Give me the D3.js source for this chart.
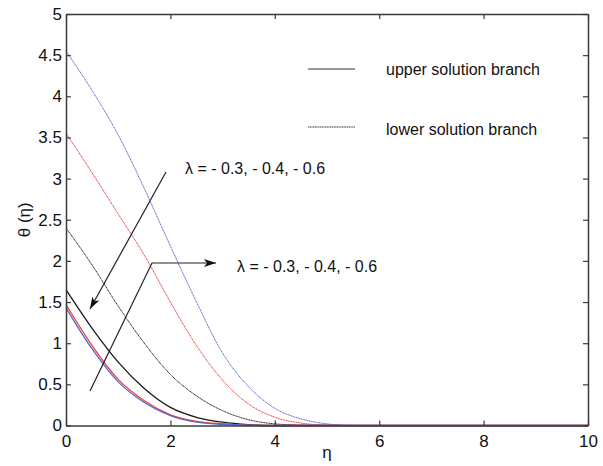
<!DOCTYPE html>
<html>
<head>
<meta charset="utf-8">
<script src="https://cdn.jsdelivr.net/npm/d3@7"></script>
<style>
  body { margin: 0; background: #fff; }
  text { font-family: "Liberation Sans", Arial, sans-serif; fill: #111; }
</style>
</head>
<body>
<div id="chart"></div>
<script>
// eta grid shared by every curve
var eta = [0, 0.5, 1, 1.5, 2, 2.5, 3, 3.5, 4, 4.5, 5, 5.5, 6, 7, 8, 9, 10];

// upper solution branch (solid)
var upperBlack = [1.65, 1.18, 0.77, 0.45, 0.22, 0.10, 0.04, 0.01, 0, 0, 0, 0, 0, 0, 0, 0, 0];
var upperRed   = [1.47, 0.97, 0.56, 0.30, 0.13, 0.05, 0.02, 0.005, 0, 0, 0, 0, 0, 0, 0, 0, 0];
var upperBlue  = [1.43, 0.93, 0.53, 0.28, 0.12, 0.04, 0.015, 0.004, 0, 0, 0, 0, 0, 0, 0, 0, 0];

// lower solution branch (dotted)
var lowerBlack = [2.40, 1.95, 1.45, 1.00, 0.62, 0.36, 0.18, 0.07, 0.02, 0.005, 0, 0, 0, 0, 0, 0, 0];
var lowerRed   = [3.55, 3.07, 2.57, 2.07, 1.50, 0.97, 0.55, 0.26, 0.10, 0.03, 0.005, 0, 0, 0, 0, 0, 0];
var lowerBlue  = [4.55, 4.07, 3.53, 2.88, 2.18, 1.50, 0.88, 0.47, 0.21, 0.08, 0.02, 0, 0, 0, 0, 0, 0];

var xTicks = [0, 2, 4, 6, 8, 10];
var yTicks = [0, 0.5, 1, 1.5, 2, 2.5, 3, 3.5, 4, 4.5, 5];
var lambdaLabel = "\u03bb = - 0.3, - 0.4, - 0.6";

var W = 603, H = 466;
var margin = {top: 14, right: 15, bottom: 40.5, left: 66};
var width = W - margin.left - margin.right,
    height = H - margin.top - margin.bottom;

var svg = d3.select("#chart").append("svg")
    .attr("width", W)
    .attr("height", H);

var g = svg.append("g")
    .attr("transform", "translate(" + margin.left + "," + margin.top + ")");

var x = d3.scaleLinear().domain([0, 10]).range([0, width]);
var y = d3.scaleLinear().domain([0, 5]).range([height, 0]);

var blue = "#5468c8", red = "#ef3b3b", black = "#1a1a1a";

/*****Curves******/
var line = d3.line()
    .x(function(d) { return x(d[0]); })
    .y(function(d) { return y(d[1]); })
    .curve(d3.curveMonotoneX);

function addCurve(vals, color, dotted) {
    var pts = eta.map(function(e, i) { return [e, vals[i]]; });
    g.append("path")
        .datum(pts)
        .attr("fill", "none")
        .attr("stroke", color)
        .attr("stroke-width", dotted ? 1 : 1.3)
        .attr("stroke-dasharray", dotted ? "1.2,0.5" : null)
        .attr("d", line);
}

addCurve(lowerBlue, blue, true);
addCurve(lowerRed, red, true);
addCurve(lowerBlack, black, true);
addCurve(upperBlack, black, false);
addCurve(upperRed, red, false);
addCurve(upperBlue, blue, false);

/*****Axes******/
function styleAxis(sel) {
    sel.select(".domain").attr("stroke", "#3a3a3a").attr("stroke-width", 1.5);
    sel.selectAll(".tick line").attr("stroke", "#3a3a3a").attr("stroke-width", 1.2);
    sel.selectAll(".tick text").style("font-size", "17px").attr("fill", "#111");
}

g.append("g")
    .attr("transform", "translate(0," + height + ")")
    .call(d3.axisBottom(x).tickValues(xTicks).tickFormat(d3.format("d"))
        .tickSizeInner(-5).tickSizeOuter(0).tickPadding(9))
    .call(styleAxis);

g.append("g")
    .call(d3.axisLeft(y).tickValues(yTicks).tickFormat(function(d) { return String(d); })
        .tickSizeInner(-5).tickSizeOuter(0).tickPadding(4))
    .call(styleAxis);

g.append("g")
    .call(d3.axisTop(x).tickValues(xTicks).tickFormat("")
        .tickSizeInner(-5).tickSizeOuter(0))
    .call(styleAxis);

g.append("g")
    .attr("transform", "translate(" + width + ",0)")
    .call(d3.axisRight(y).tickValues(yTicks).tickFormat("")
        .tickSizeInner(-5).tickSizeOuter(0))
    .call(styleAxis);

// axis titles
svg.append("text")
    .attr("x", margin.left + width / 2)
    .attr("y", 458)
    .attr("text-anchor", "middle")
    .style("font-size", "17px")
    .text("\u03b7");

svg.append("text")
    .attr("transform", "translate(30," + (margin.top + height / 2) + ") rotate(-90)")
    .attr("text-anchor", "middle")
    .style("font-size", "17px")
    .text("\u03b8 (\u03b7)");

/*****Legend******/
svg.append("line")
    .attr("x1", 308).attr("x2", 355).attr("y1", 69).attr("y2", 69)
    .attr("stroke", "#333").attr("stroke-width", 1.2);
svg.append("text")
    .attr("x", 386).attr("y", 75)
    .style("font-size", "16px")
    .text("upper solution branch");

svg.append("line")
    .attr("x1", 308).attr("x2", 355).attr("y1", 127).attr("y2", 127)
    .attr("stroke", "#333").attr("stroke-width", 1)
    .attr("stroke-dasharray", "1.2,0.5");
svg.append("text")
    .attr("x", 386).attr("y", 135)
    .style("font-size", "16px")
    .text("lower solution branch");

/*****Annotations******/
svg.append("defs").append("marker")
    .attr("id", "arrow")
    .attr("viewBox", "0 0 12 8")
    .attr("refX", 12).attr("refY", 4)
    .attr("markerWidth", 12).attr("markerHeight", 8)
    .attr("markerUnits", "userSpaceOnUse")
    .attr("orient", "auto")
    .append("path")
    .attr("d", "M0,0 L12,4 L0,8 L3,4 Z")
    .attr("fill", "#111");

svg.append("line")
    .attr("x1", 166).attr("y1", 172).attr("x2", 90).attr("y2", 309)
    .attr("stroke", "#222").attr("stroke-width", 1.2)
    .attr("marker-end", "url(#arrow)");

svg.append("text")
    .attr("x", 185).attr("y", 174)
    .style("font-size", "16px")
    .text(lambdaLabel);

svg.append("polyline")
    .attr("points", "90,391 152,263 216,263")
    .attr("fill", "none")
    .attr("stroke", "#222").attr("stroke-width", 1.2)
    .attr("marker-end", "url(#arrow)");

svg.append("text")
    .attr("x", 237).attr("y", 272)
    .style("font-size", "16px")
    .text(lambdaLabel);
</script>
</body>
</html>
